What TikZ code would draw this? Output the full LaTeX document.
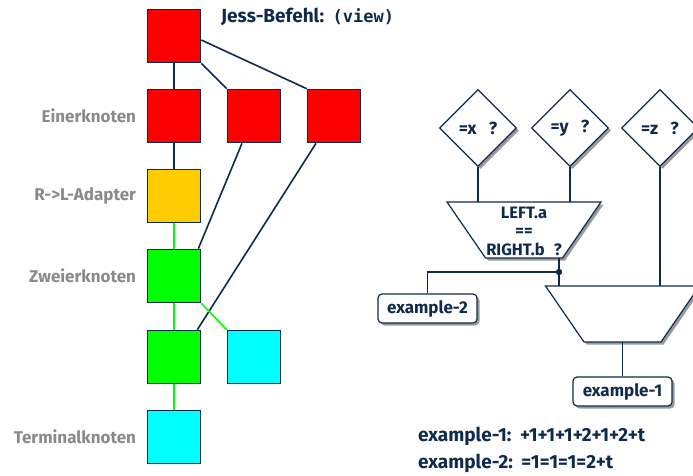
\documentclass[tikz,border=0pt]{standalone}
\usepackage{fontspec}
\setmainfont{Fira Sans}
\setmonofont{DejaVu Sans Mono}
\usetikzlibrary{shapes.geometric,shadows,calc,positioning,backgrounds}
\definecolor{navy}{HTML}{102A4E}
\definecolor{labelgray}{HTML}{8A8A8A}
\definecolor{nodered}{HTML}{FF0000}
\definecolor{nodeyellow}{HTML}{FFCC00}
\definecolor{nodegreen}{HTML}{00FF00}
\definecolor{nodecyan}{HTML}{00FFFF}
\definecolor{shadowgray}{HTML}{9A9A9A}
\newcommand{\fs}[1]{\fontsize{#1}{#1}\selectfont}
\begin{document}
\begin{tikzpicture}[x=1pt,y=-1pt,
  font=\bfseries\fs{16}, text=navy,
  sq/.style={rectangle, draw=navy, line width=1.6pt, minimum size=53pt, inner sep=0pt},
  link/.style={draw=navy, line width=1.6pt},
  glink/.style={draw=nodegreen, line width=1.6pt},
  lbl/.style={text=labelgray, inner sep=0pt, font=\bfseries\fs{17}},
  shade/.style={drop shadow={shadow xshift=2.5pt, shadow yshift=-2.5pt, fill=shadowgray, opacity=1}},
  dia/.style={diamond, aspect=1, draw=navy, line width=1.2pt, fill=white, inner sep=0pt,
    minimum width=77pt, minimum height=77pt, shade, font=\bfseries\fs{17.5}},
  trapedge/.style={draw=navy, line width=1.2pt, fill=white, line join=miter},
  trapshade/.style={fill=shadowgray},
  tag/.style={rectangle, rounded corners=4pt, draw=navy, line width=1.2pt, fill=white,
    minimum width=99pt, minimum height=29pt, inner sep=0pt, shade, font=\bfseries\fs{17}},
  res/.style={anchor=west, inner sep=0pt, font=\bfseries\fs{19}}
]
\useasboundingbox (0,0) rectangle (693,475);
\clip (0,0) rectangle (693,475);

% ---- Rete network (left) ----
\node[sq, fill=nodered]    (r0) at (174,36)  {};
\node[sq, fill=nodered]    (r1) at (174,116) {};
\node[sq, fill=nodered]    (r2) at (254,116) {};
\node[sq, fill=nodered]    (r3) at (334,116) {};
\node[sq, fill=nodeyellow] (ad) at (174,196) {};
\node[sq, fill=nodegreen]  (z1) at (174,276) {};
\node[sq, fill=nodegreen]  (z2) at (174,357) {};
\node[sq, fill=nodecyan]   (t1) at (254,357) {};
\node[sq, fill=nodecyan]   (t2) at (174,437) {};

\begin{scope}[on background layer]
  \draw[link] (r0) -- (r1);
  \draw[link] (r0) -- (r2);
  \draw[link] ($(r0.east)+(0,4)$) -- (r3.north west);
  \draw[link] (r1) -- (ad);
  \draw[glink] (ad) -- (z1);
  \draw[link] ($(r2.south)+(-12,0)$) -- ($(z1.north east)+(-3,0)$);
  \draw[link] ($(r3.south)+(-18,0)$) -- ($(z2.north east)+(-4,0)$);
  \draw[glink] (z1) -- (z2);
  \draw[glink] (z1.south east) -- (t1.north west);
  \draw[glink] (z2) -- (t2);
\end{scope}

\node[lbl, left=10.5pt of r1] (l1) {Einerknoten};
\node[lbl, left=10.5pt of ad] (l2) {R->L-Adapter};
\node[lbl, left=10.5pt of z1] (l3) {Zweierknoten};
\node[lbl, left=10.5pt of t2] (l4) {Terminalknoten};

\node[anchor=west, inner sep=0pt, font=\bfseries\fs{19}] (cmd) at (221,17)
  {Jess-Befehl:\hspace{0.45em}{\ttfamily\fs{17}(view)}};

% ---- condition tests (right) ----
\node[dia] (dx) at (478,128) {=x\hspace{0.7em}?};
\node[dia] (dy) at (570,128) {=y\hspace{0.7em}?};
\node[dia] (dz) at (660,128) {=z\hspace{0.7em}?};

% ---- join nodes, drawn as inverted trapezoids ----
\coordinate (j1) at (524,230);
\coordinate (j2) at (622.5,314);
\foreach \c in {j1,j2} {
  \fill[trapshade] ($(\c)+(-77+2.5,-28+2.5)$) -- ($(\c)+(77+2.5,-28+2.5)$)
    -- ($(\c)+(38.5+2.5,28+2.5)$) -- ($(\c)+(-38.5+2.5,28+2.5)$) -- cycle;
  \path[trapedge] ($(\c)+(-77,-28)$) -- ($(\c)+(77,-28)$)
    -- ($(\c)+(38.5,28)$) -- ($(\c)+(-38.5,28)$) -- cycle;
}
\node[align=center, inner sep=0pt, font=\bfseries\fontsize{16.5}{18.5}\selectfont] (j1t) at (524,231)
  {LEFT.a\\==\\RIGHT.b\hspace{0.55em}?};

\node[tag] (ex2) at (427.5,308.5) {example-2};
\node[tag] (ex1) at (622.5,391.5) {example-1};

\coordinate (j1top) at ($(j1)+(0,-28)$);
\coordinate (j1out) at ($(j1)+(35,28)$);
\coordinate (j2top) at ($(j2)+(0,-28)$);
\coordinate (j2in)  at ($(j2)+(-63.5,-28)$);
\coordinate (j2out) at ($(j2)+(0,28)$);
\coordinate (jn) at (559,272);

\draw[link] (dx.south) -- (dx.south |- j1top);
\draw[link] (dy.south) -- (dy.south |- j1top);
\draw[link] (dz.south) -- (dz.south |- j2top);
\draw[link] (j1out) -- (j2in);
\draw[link] (jn) -| (ex2.north);
\fill[navy] (jn) circle (3.2pt);
\draw[link] (j2out) -- (ex1.north);

\node[res] (res1) at (418,436) {example-1:\hspace{0.45em}+1+1+1+2+1+2+t};
\node[res] (res2) at (418,463) {example-2:\hspace{0.45em}=1=1=1=2+t};
\end{tikzpicture}
\end{document}
